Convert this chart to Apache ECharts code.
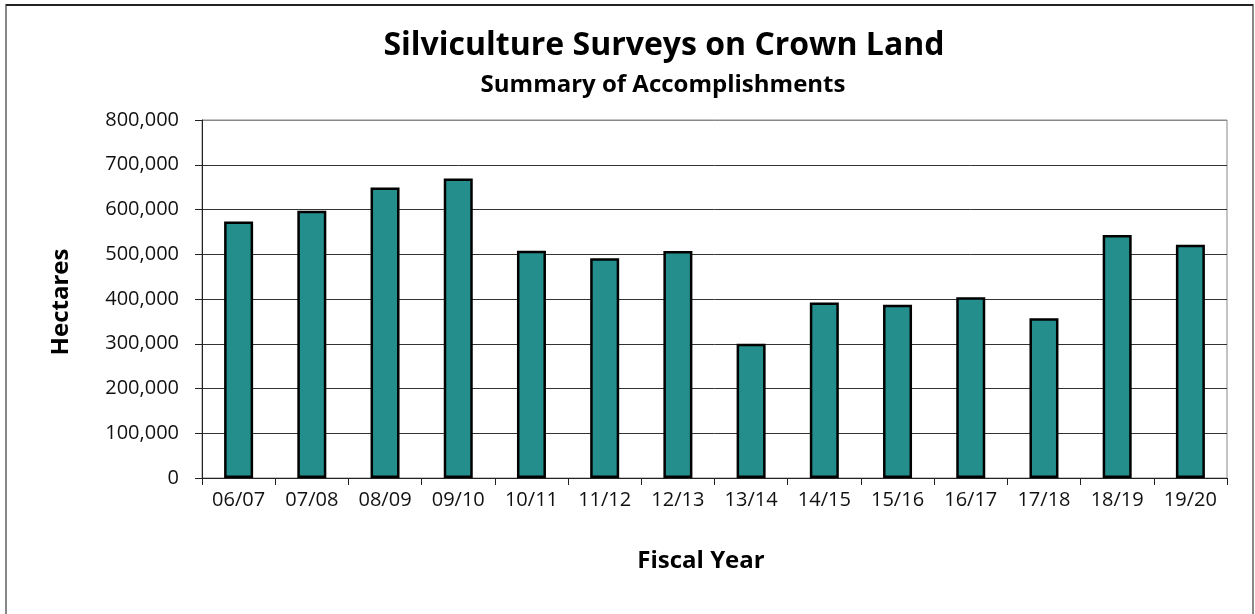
<!DOCTYPE html>
<html>
<head>
<meta charset="utf-8">
<script src="https://cdn.jsdelivr.net/npm/echarts@6/dist/echarts.min.js"></script>
<style>
  html, body { margin: 0; padding: 0; background: #fff; }
  #chart { width: 1255px; height: 614px; }
</style>
</head>
<body>
<div id="chart"></div>
<script>
// Fiscal years surveyed
const fiscalYears = ['06/07', '07/08', '08/09', '09/10', '10/11', '11/12', '12/13',
                     '13/14', '14/15', '15/16', '16/17', '17/18', '18/19', '19/20'];
// Hectares surveyed per fiscal year
const hectares = [573000, 597000, 649000, 669000, 508000, 491000, 507000,
                  300000, 392000, 387000, 404000, 357000, 543000, 521000];
// Value axis range
const yMin = 0;
const yMax = 800000;
const yStep = 100000;

const chart = echarts.init(document.getElementById('chart'), null, { renderer: 'canvas' });
const FONT = '"Open Sans", "Noto Sans", sans-serif';

chart.setOption({
  animation: false,
  backgroundColor: '#fff',
  title: [
    {
      text: 'Silviculture Surveys on Crown Land',
      left: 659, top: 25, textAlign: 'center',
      textStyle: { fontFamily: FONT, fontSize: 32, fontWeight: 'bold', color: '#000' }
    },
    {
      text: 'Summary of Accomplishments',
      left: 658, top: 68, textAlign: 'center',
      textStyle: { fontFamily: FONT, fontSize: 24, fontWeight: 'bold', color: '#000' }
    }
  ],
  grid: {
    left: 202, right: 28, top: 120, bottom: 136,
    show: true, borderColor: '#888', borderWidth: 1, backgroundColor: 'transparent'
  },
  xAxis: {
    type: 'category',
    data: fiscalYears,
    boundaryGap: true,
    axisLine: { lineStyle: { color: '#222', width: 1 } },
    axisTick: { show: true, length: 7, lineStyle: { color: '#222' } },
    axisLabel: { fontFamily: FONT, fontSize: 20, color: '#111', margin: 12, interval: 0 },
    splitLine: { show: false }
  },
  yAxis: {
    type: 'value',
    min: yMin, max: yMax, interval: yStep,
    axisLine: { show: true, lineStyle: { color: '#222', width: 1 } },
    axisTick: { show: true, length: 7, lineStyle: { color: '#222' } },
    axisLabel: {
      fontFamily: FONT, fontSize: 20, color: '#111', margin: 23,
      formatter: v => v.toLocaleString('en-US')
    },
    splitLine: {
      show: true,
      lineStyle: { color: ['#333', '#333', '#333', '#333', '#333', '#333', '#333', '#333', '#888'], width: 1 }
    }
  },
  series: [{
    type: 'bar',
    data: hectares,
    barWidth: 29,
    itemStyle: { color: '#238E8C', borderColor: '#000', borderWidth: 2.5 }
  }],
  graphic: [
    {
      type: 'text', rotation: Math.PI / 2, x: 61, y: 302,
      style: { text: 'Hectares', fontFamily: FONT, fontSize: 24, fontWeight: 'bold', fill: '#000',
               align: 'center', verticalAlign: 'middle' }
    },
    {
      type: 'text', x: 701, y: 561,
      style: { text: 'Fiscal Year', fontFamily: FONT, fontSize: 24, fontWeight: 'bold', fill: '#000',
               align: 'center', verticalAlign: 'middle' }
    },
    {
      type: 'rect', silent: true,
      shape: { x: 6, y: 5, width: 1247, height: 640 },
      style: { fill: 'none', stroke: '#888', lineWidth: 2 }
    },
    {
      type: 'line', silent: true,
      shape: { x1: 6, y1: 5, x2: 1253, y2: 5 },
      style: { stroke: '#000', lineWidth: 1.5 }
    }
  ]
});
</script>
</body>
</html>
